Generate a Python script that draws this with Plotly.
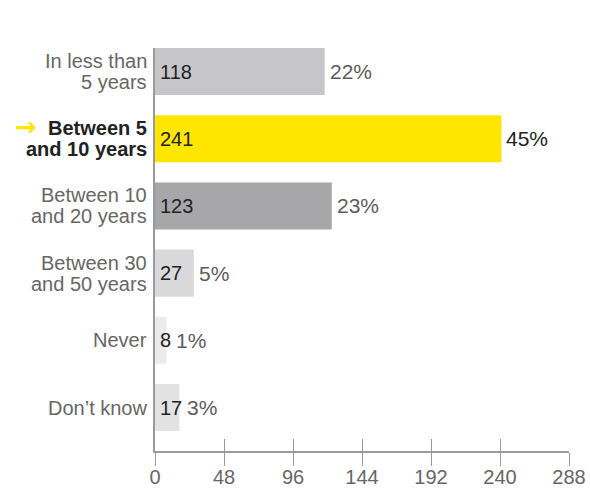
import plotly.graph_objects as go

# Survey answers, top to bottom
categories = [
    "In less than<br>5 years",
    "Between 5<br>and 10 years",
    "Between 10<br>and 20 years",
    "Between 30<br>and 50 years",
    "Never",
    "Don\u2019t know",
]
counts = [118, 241, 123, 27, 8, 17]
percents = ["22%", "45%", "23%", "5%", "1%", "3%"]
bar_colors = ["#c6c6c8", "#ffe600", "#a7a7aa", "#d9d9db", "#ebebec", "#e2e2e3"]
highlight = 1
x_ticks = [0, 48, 96, 144, 192, 240, 288]

FONT = "Liberation Sans, Arial, Helvetica, sans-serif"
X_MAX = 288
PLOT_W = 414  # plot width in px, used to keep % labels clear of count labels
LINE_H = 21   # leading of the two-line category labels

fig = go.Figure()
fig.add_trace(go.Bar(
    y=list(range(len(categories))),
    x=counts,
    orientation="h",
    marker=dict(color=bar_colors, line=dict(width=0)),
    width=0.7,
    hoverinfo="skip",
))

annotations = []
for i, (cat, v, p) in enumerate(zip(categories, counts, percents)):
    # category label, one annotation per line for tight leading
    lines = cat.split("<br>")
    n = len(lines)
    for k, line in enumerate(lines):
        txt = "<b>" + line + "</b>" if i == highlight else line
        annotations.append(dict(
            x=0, y=i, xref="paper", yref="y", text=txt, showarrow=False,
            xanchor="right", xshift=-6,
            yshift=((n - 1) / 2 - k) * LINE_H,
            font=dict(family=FONT, size=20,
                      color="#222222" if i == highlight else "#666666"),
        ))
    if i == highlight:
        annotations.append(dict(
            x=0, y=i, xref="paper", yref="y", text="<b>\u2192</b>",
            showarrow=False, xanchor="center", xshift=-129,
            yshift=LINE_H / 2 + 1,
            font=dict(family="DejaVu Sans, sans-serif", size=26,
                      color="#ffe600"),
        ))
    # count inside the bar, at its left edge
    annotations.append(dict(
        x=0, y=i, xref="x", yref="y", text=str(v), showarrow=False,
        xanchor="left", xshift=3,
        font=dict(family=FONT, size=20, color="#222222"),
    ))
    bar_px = v * PLOT_W / X_MAX
    label_end = 5 + len(str(v)) * 11
    shift = max(0, label_end - bar_px) + 3
    annotations.append(dict(
        x=v, y=i, xref="x", yref="y", text=p, showarrow=False,
        xanchor="left", xshift=shift,
        font=dict(family=FONT, size=21,
                  color="#222222" if i == highlight else "#5c5c5c"),
    ))

fig.update_layout(
    width=590, height=489,
    margin=dict(l=155, r=21, t=48, b=38, autoexpand=False),
    paper_bgcolor="white", plot_bgcolor="white",
    showlegend=False,
    annotations=annotations,
    xaxis=dict(
        range=[0, X_MAX], tickvals=x_ticks, ticktext=[str(t) for t in x_ticks],
        showgrid=False, zeroline=False, automargin=False,
        showline=True, linecolor="#9a9a9a", linewidth=2,
        ticks="outside", ticklen=13, tickwidth=1, tickcolor="#9a9a9a",
        ticklabelstandoff=-6,
        tickfont=dict(family=FONT, size=20, color="#666666"),
    ),
    xaxis2=dict(
        range=[0, X_MAX], tickvals=x_ticks, overlaying="x", side="bottom",
        anchor="y", showticklabels=False, showgrid=False, zeroline=False,
        automargin=False,
        ticks="inside", ticklen=12, tickwidth=1, tickcolor="#9a9a9a",
        showline=False,
    ),
    yaxis=dict(
        range=[5.647, -0.35],
        tickvals=list(range(len(categories))), showticklabels=False,
        showgrid=False, zeroline=False, automargin=False,
        showline=True, linecolor="#9a9a9a", linewidth=2,
        ticks="",
    ),
)

# invisible trace so the overlay axis with the upper tick halves is drawn
fig.add_trace(go.Scatter(x=[0], y=[0], xaxis="x2", mode="markers",
                         marker=dict(opacity=0), hoverinfo="skip"))

fig.write_html("out.html")
